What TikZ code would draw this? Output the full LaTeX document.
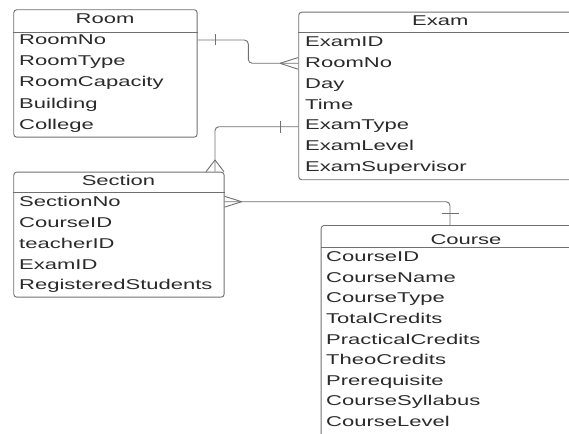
\documentclass[tikz,border=0pt]{standalone}
\usepackage{fontspec}
\setmainfont{Liberation Sans}[FakeStretch=1.55]
\usetikzlibrary{calc}
\definecolor{edge}{HTML}{707070}
\definecolor{ink}{HTML}{2A2A2A}

\begin{document}
\begin{tikzpicture}[x=1pt,y=-1pt,
  entity/.style={draw=edge, line width=0.9pt, rounded corners=3pt, inner sep=0pt, anchor=north west},
  field/.style={anchor=base west, inner sep=0pt, text=ink, font=\fontsize{14.2}{16}\selectfont},
  heading/.style={anchor=base, inner sep=0pt, text=ink, font=\fontsize{14.2}{16}\selectfont},
  rel/.style={draw=edge, line width=0.9pt},
  link/.style={rel, rounded corners=4pt},
]
\useasboundingbox (0,0) rectangle (569,433);
\clip (0,0) rectangle (569,433);

% entity boxes
\node[entity, minimum width=183.4pt, minimum height=127.4pt] (room) at (13.3,9.3) {};
\node[entity, minimum width=283.7pt, minimum height=167.6pt] (exam) at (298.3,11.7) {};
\node[entity, minimum width=210.4pt, minimum height=125pt] (section) at (13.3,171.7) {};
\node[entity, minimum width=290pt, minimum height=260pt] (course) at (320.7,225) {};

% header separators
\draw[rel] (room.west |- 0,32.3) -- (room.east |- 0,32.3);
\draw[rel] (exam.west |- 0,32.7) -- (exam.east |- 0,32.7);
\draw[rel] (section.west |- 0,192.7) -- (section.east |- 0,192.7);
\draw[rel] (course.west |- 0,247.3) -- (course.east |- 0,247.3);

% titles
\node[heading] (room-t) at (105,24) {Room};
\node[heading] (exam-t) at (440.3,26) {Exam};
\node[heading] (section-t) at (118.5,185.7) {Section};
\node[heading] (course-t) at (466,244.3) {Course};

% attributes
\foreach \t [count=\i] in {RoomNo,RoomType,RoomCapacity,Building,College}
  \node[field] (room-\i) at (19,{24+21*\i}) {\t};
\foreach \t [count=\i] in {ExamID,RoomNo,Day,Time,ExamType,ExamLevel,ExamSupervisor}
  \node[field] (exam-\i) at (305,{25.9+20.8*\i}) {\t};
\foreach \t [count=\i] in {SectionNo,CourseID,teacherID,ExamID,RegisteredStudents}
  \node[field] (section-\i) at (19,{185.9+20.8*\i}) {\t};
\foreach \t [count=\i] in {CourseID,CourseName,CourseType,TotalCredits,PracticalCredits,TheoCredits,Prerequisite,CourseSyllabus,CourseLevel}
  \node[field] (course-\i) at (326,{241.1+20.6*\i}) {\t};

% Room (one) -- Exam (many)
\draw[link] (room.east |- 0,40) -- (248.3,40) -- (248.3,63.3) -- (exam.west |- 0,63.3);
\draw[rel] (215,34.5) -- (215,45.5);
\draw[rel] (280,63.3) -- (exam.west |- 0,57.5);
\draw[rel] (280,63.3) -- (exam.west |- 0,69.3);

% Exam (one) -- Section (many)
\draw[link] (exam.west |- 0,126.7) -- (215,126.7) -- (215,0 |- section.north);
\draw[rel] (280,120.7) -- (280,132.7);
\draw[rel] (215,160) -- (206,171.7);
\draw[rel] (215,160) -- (224,171.7);

% Section (many) -- Course (one)
\draw[link] (section.east |- 0,201.7) -- (450,201.7) -- (450,0 |- course.north);
\draw[rel] (241.7,201.7) -- (section.east |- 0,196.3);
\draw[rel] (241.7,201.7) -- (section.east |- 0,207.1);
\draw[rel] (441.5,213.3) -- (458.5,213.3);
\end{tikzpicture}
\end{document}
